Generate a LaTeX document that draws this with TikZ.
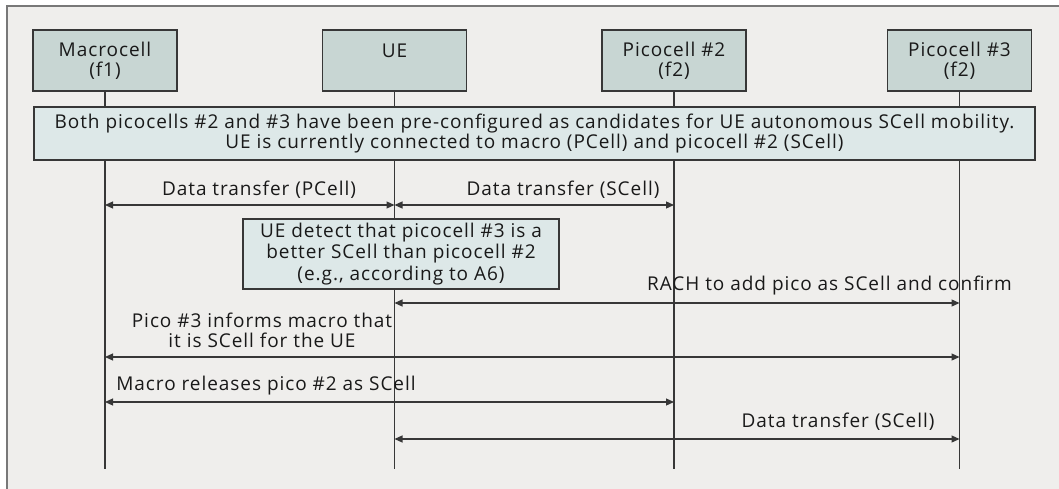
\documentclass[tikz,border=0pt]{standalone}
\usepackage{fontspec}
\setmainfont[LetterSpace=5]{Open Sans}
\usetikzlibrary{arrows.meta}
\definecolor{bggray}{RGB}{239,238,236}
\definecolor{framegray}{RGB}{120,120,120}
\definecolor{headfill}{RGB}{200,214,211}
\definecolor{notefill}{RGB}{221,232,232}
\definecolor{linegray}{RGB}{55,55,55}
\definecolor{txtgray}{RGB}{25,25,25}
\tikzset{
  headbox/.style={draw=linegray, line width=1.2pt, fill=headfill, minimum width=144pt, minimum height=61pt, align=center, text=txtgray, font=\fontsize{19}{20}\selectfont},
  notebox/.style={draw=linegray, line width=1.2pt, fill=notefill, align=center, text=txtgray, font=\fontsize{19}{21.5}\selectfont},
  lifeline/.style={linegray, line width=1.2pt},
  msg/.style={linegray, line width=1.2pt, {Triangle[length=8pt,width=7pt]}-{Triangle[length=8pt,width=7pt]}},
  msglabel/.style={text=txtgray, inner sep=0pt, align=center, font=\fontsize{19}{20}\selectfont}
}

\begin{document}
\begin{tikzpicture}[x=1pt, y=-1pt]
			%%%%% START %%%%%
			\useasboundingbox (0,0) rectangle (1059,489);
			\fill[white] (0,0) rectangle (1059,489);
			\fill[bggray] (7,6) rectangle (1059,489);
			\draw[framegray, line width=1.5pt] (7,489) -- (7,6) -- (1059,6);
			
			\node[headbox] (macro) at (105,60.5) {Macrocell\\(f1)};
			\node[headbox] (ue) at (394.5,60.5) {UE\\\mbox{}};
			\node[headbox] (picoA) at (674,60.5) {Picocell \#2\\(f2)};
			\node[headbox] (picoB) at (959.5,60.5) {Picocell \#3\\(f2)};
			
			\foreach \n in {macro,ue,picoA,picoB}{
				\coordinate (\n end) at (\n.south |- 0,469);
				\draw[lifeline] (\n.south) -- (\n end);
			}
			
			\node[notebox, minimum width=1001pt, minimum height=53pt, font=\fontsize{19}{20}\selectfont] (config) at (534.5,133.5) {Both picocells \#2 and \#3 have been pre-configured as candidates for UE autonomous SCell mobility.\\UE is currently connected to macro (PCell) and picocell \#2 (SCell)};
			
			\draw[msg] (macro |- 0,205) -- (ue |- 0,205);
			\node[msglabel] (pcell) at (259,190) {Data transfer (PCell)};
			\draw[msg] (ue |- 0,205) -- (picoA |- 0,205);
			\node[msglabel] (scellA) at (563,190) {Data transfer (SCell)};
			
			\node[notebox, minimum width=316pt, minimum height=70pt] (detect) at (401,254) {UE detect that picocell \#3 is a\\better SCell than picocell \#2\\(e.g., according to A6)};
			
			\draw[msg] (ue |- 0,303) -- (picoB |- 0,303);
			\node[msglabel] (rach) at (829.5,286) {RACH to add pico as SCell and confirm};
			
			\draw[msg] (macro |- 0,357) -- (picoB |- 0,357);
			\node[msglabel] (inform) at (262,330) {Pico \#3 informs macro that\\it is SCell for the UE};
			
			\draw[msg] (macro |- 0,402) -- (picoA |- 0,402);
			\node[msglabel] (release) at (266,386) {Macro releases pico \#2 as SCell};
			
			\draw[msg] (ue |- 0,439) -- (picoB |- 0,439);
			\node[msglabel] (scellB) at (838,422) {Data transfer (SCell)};
			%%%%% END %%%%%
\end{tikzpicture}
\end{document}
